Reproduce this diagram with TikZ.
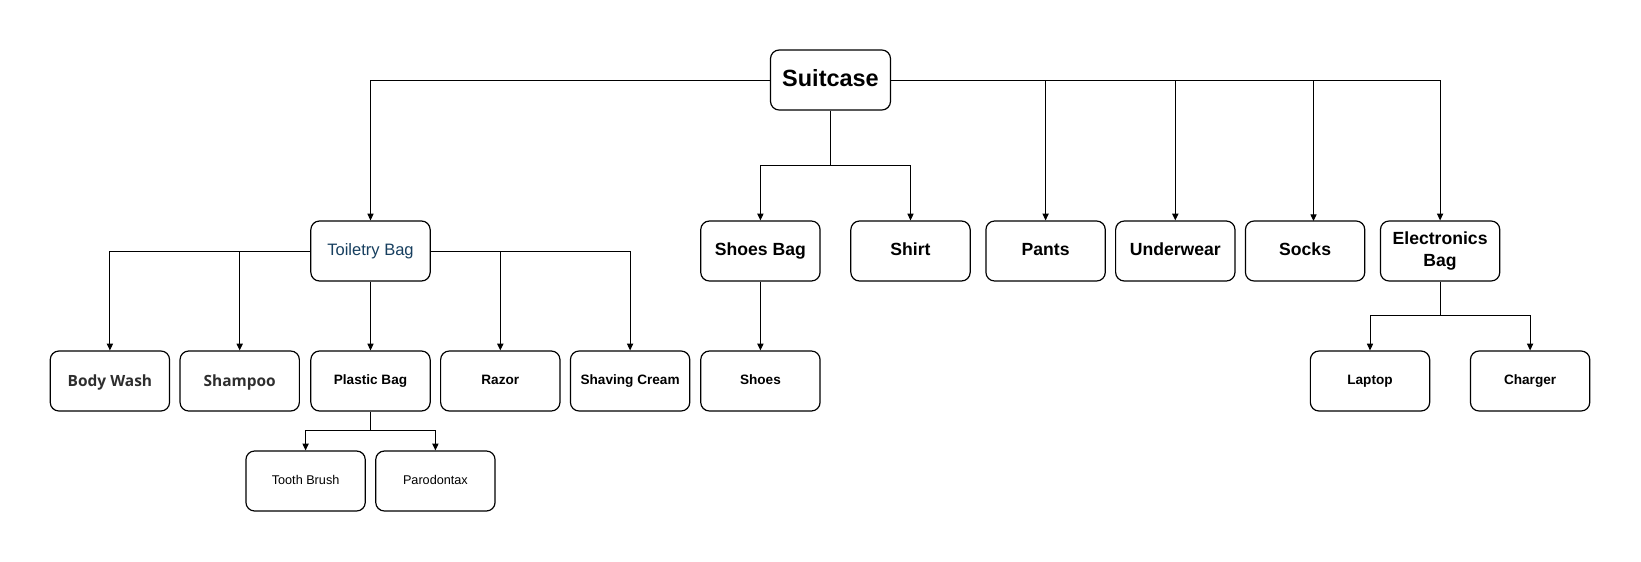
\documentclass[tikz,border=0pt]{standalone}
\usepackage{fontspec}
\setmainfont{Liberation Sans}
\newfontfamily\opensans{Open Sans}
\usetikzlibrary{arrows.meta}
\definecolor{toilblue}{HTML}{173F5F}
\definecolor{darkgrey}{HTML}{2E2E2E}
\tikzset{
  box/.style={draw=black, line width=0.9pt, rounded corners=6.5pt, fill=white,
    minimum width=89.5pt, minimum height=45pt, inner sep=1pt, align=center},
  topbox/.style={box, minimum width=90pt, font=\fontsize{17.6}{20}\selectfont\bfseries,
    text height=12.7pt, text depth=3.6pt},
  lvtwo/.style={box, font=\fontsize{13.2}{16}\selectfont\bfseries,
    text height=9.5pt, text depth=2.8pt},
  lvtwoml/.style={box, font=\fontsize{13.2}{16}\selectfont\bfseries},
  toilbox/.style={box, text=toilblue, font=\fontsize{12.4}{15}\selectfont,
    text height=8.9pt, text depth=2.6pt},
  grbox/.style={box, text=darkgrey, font=\fontsize{11.6}{14}\opensans\bfseries,
    text height=8.6pt, text depth=0.8pt},
  lvthree/.style={box, font=\fontsize{10.2}{12}\selectfont\bfseries,
    text height=7.4pt, text depth=2.1pt},
  lvfour/.style={box, font=\fontsize{9.5}{12}\selectfont,
    text height=6.9pt, text depth=2pt},
  arr/.style={draw=black, line width=0.75pt, -{Triangle[length=5pt,width=4.6pt]}},
  ln/.style={draw=black, line width=0.75pt}
}
\begin{document}
\begin{tikzpicture}[x=0.75pt, y=-0.75pt]
\useasboundingbox (0,0) rectangle (1641,561);
% nodes
\node[topbox] (suit) at (830.5,80) {Suitcase};
\node[toilbox] (toil) at (370.5,251) {Toiletry Bag};
\node[lvtwo] (shoesbag) at (760.4,251) {Shoes Bag};
\node[lvtwo] (shirt) at (910.5,251) {Shirt};
\node[lvtwo] (pants) at (1045.6,251) {Pants};
\node[lvtwo] (under) at (1175.3,251) {Underwear};
\node[lvtwo] (socks) at (1305.1,251) {Socks};
\node[lvtwoml] (elec) at (1440.1,251) {Electronics\\Bag};
\node[grbox] (body) at (109.9,381) {Body Wash};
\node[grbox] (shamp) at (239.7,381) {Shampoo};
\node[lvthree] (plastic) at (370.5,381) {Plastic Bag};
\node[lvthree] (razor) at (500.3,381) {Razor};
\node[lvthree] (shave) at (630.1,381) {Shaving Cream};
\node[lvthree] (shoes) at (760.4,381) {Shoes};
\node[lvthree] (laptop) at (1370,381) {Laptop};
\node[lvthree] (charger) at (1530.1,381) {Charger};
\node[lvfour] (tooth) at (305.6,481) {Tooth Brush};
\node[lvfour] (paro) at (435.4,481) {Parodontax};
% junction coordinates
\coordinate (sj) at (830.5,165.4);
\coordinate (pj) at (370.5,430.2);
\coordinate (ej) at (1440.1,315);
\coordinate (socksin) at (1313.5,221);
% connectors from Suitcase
\draw[arr] (suit.west) -| (toil.north);
\draw[arr] (suit.east) -| (pants.north);
\draw[arr] (suit.east) -| (under.north);
\draw[arr] (suit.east) -| (socksin);
\draw[arr] (suit.east) -| (elec.north);
\draw[ln] (suit.south) -- (sj);
\draw[arr] (sj) -| (shoesbag.north);
\draw[arr] (sj) -| (shirt.north);
% Toiletry Bag
\draw[arr] (toil.west) -| (body.north);
\draw[arr] (toil.west) -| (shamp.north);
\draw[arr] (toil.south) -- (plastic.north);
\draw[arr] (toil.east) -| (razor.north);
\draw[arr] (toil.east) -| (shave.north);
% Plastic Bag
\draw[ln] (plastic.south) -- (pj);
\draw[arr] (pj) -| (tooth.north);
\draw[arr] (pj) -| (paro.north);
% Shoes Bag
\draw[arr] (shoesbag.south) -- (shoes.north);
% Electronics Bag
\draw[ln] (elec.south) -- (ej);
\draw[arr] (ej) -| (laptop.north);
\draw[arr] (ej) -| (charger.north);
\end{tikzpicture}
\end{document}
